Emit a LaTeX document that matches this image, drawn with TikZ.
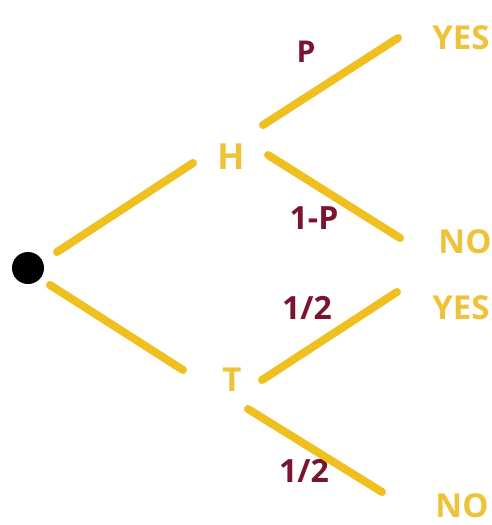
\documentclass[tikz,border=0pt]{standalone}
\usepackage{fontspec}
\setmainfont{Open Sans}
\definecolor{gold}{HTML}{F0C020}
\definecolor{goldtxt}{HTML}{EEC33A}
\definecolor{wine}{HTML}{7A1530}
\begin{document}
\begin{tikzpicture}[x=1pt,y=-1pt,
  branch/.style={draw=gold,line width=8pt,line cap=round},
  outcome/.style={text=goldtxt,font=\bfseries\fontsize{33}{33}\selectfont,inner sep=0pt,anchor=center},
  prob/.style={text=wine,font=\bfseries\fontsize{32}{32}\selectfont,inner sep=0pt,anchor=center}]
\useasboundingbox (0,0) rectangle (492,525);
\fill[black] (28,268) circle (16) coordinate (root);
% nodes
\node[outcome,font=\bfseries\fontsize{36}{36}\selectfont] (H) at (231,157) {H};
\node[outcome] (T) at (232,380) {T};
\node[outcome] (Y1) at (461,38) {YES};
\node[outcome] (N1) at (465,242) {NO};
\node[outcome] (Y2) at (461,308) {YES};
\node[outcome] (N2) at (462,506) {NO};
\node[prob,font=\bfseries\fontsize{30}{30}\selectfont] (p1) at (306,52) {P};
\node[prob] (p2) at (314,218) {1-P};
\node[prob] (p3) at (307,308) {1/2};
\node[prob] (p4) at (304,471) {1/2};
% line ends
\coordinate (a1) at (57,252); \coordinate (a2) at (193,163);
\coordinate (b1) at (263,125); \coordinate (b2) at (398,38);
\coordinate (c1) at (268,155); \coordinate (c2) at (400,238);
\coordinate (d1) at (50,285); \coordinate (d2) at (183,370);
\coordinate (e1) at (262,380); \coordinate (e2) at (397,292);
\coordinate (f1) at (248,409); \coordinate (f2) at (382,492);
\draw[branch] (a1) -- (a2);
\draw[branch] (b1) -- (b2);
\draw[branch] (c1) -- (c2);
\draw[branch] (d1) -- (d2);
\draw[branch] (e1) -- (e2);
\draw[branch] (f1) -- (f2);
\end{tikzpicture}
\end{document}
